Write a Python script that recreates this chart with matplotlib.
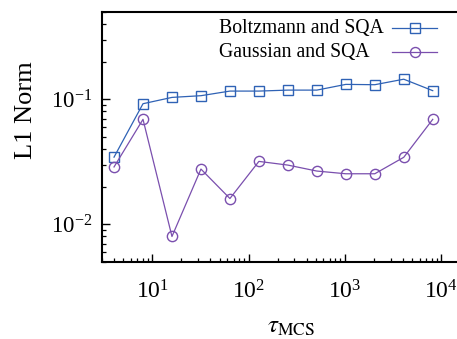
import matplotlib
matplotlib.use("Agg")
import matplotlib.pyplot as plt
from matplotlib.lines import Line2D

plt.rcParams['font.family'] = ['Liberation Serif', 'DejaVu Serif']
plt.rcParams['mathtext.fontset'] = 'stix'

tau_mcs = [4, 8, 16, 32, 64, 128, 256, 512, 1024, 2048, 4096, 8192]
boltzmann_sqa = [0.0345, 0.0923, 0.1037, 0.107, 0.1165, 0.1165, 0.1186, 0.1186,
                 0.1318, 0.131, 0.145, 0.1174]
gaussian_sqa = [0.0288, 0.0692, 0.0080, 0.0277, 0.0161, 0.0319, 0.0298, 0.0267,
                0.0254, 0.0254, 0.0344, 0.0692]
series_labels = ["Boltzmann and SQA", "Gaussian and SQA"]

blue = "#2f62b5"
purple = "#7a4fae"

W, H = 457, 339
fig = plt.figure(figsize=(W / 100, H / 100), dpi=100)
ax = fig.add_axes([102 / W, (H - 262) / H, (481 - 102) / W, (262 - 12) / H])

ax.plot(tau_mcs, boltzmann_sqa, color=blue, lw=0.9, marker='s', ms=7.2,
        mfc='none', mec=blue, mew=1.0)
ax.plot(tau_mcs, gaussian_sqa, color=purple, lw=0.9, marker='o', ms=7.4,
        mfc='none', mec=purple, mew=1.0)

ax.set_xscale('log')
ax.set_yscale('log')
ax.set_xlim(3, 2.6e4)
ax.set_ylim(0.005, 0.5)

for s in ax.spines.values():
    s.set_linewidth(1.5)

ax.tick_params(which='both', direction='in', top=False, right=False, labelsize=17)
ax.tick_params(axis='y', labelsize=16.5)
ax.tick_params(which='major', length=6, width=1.0)
ax.tick_params(which='minor', length=3, width=0.9)
ax.tick_params(axis='x', which='major', pad=13)
ax.tick_params(axis='y', which='major', pad=7)

ax.set_xlabel(r'$\tau_{\mathrm{MCS}}$', fontsize=18, labelpad=9)
ax.set_ylabel('L1 Norm', fontsize=19)
ax.yaxis.set_label_coords(-0.172, 0.608)

# legend: left-aligned labels with the line samples to their right
handles = [(blue, 's'), (purple, 'o')]
rows_y = [28, 52]
for (c, m), lab, yp in zip(handles, series_labels, rows_y):
    yf = 1 - yp / H
    fig.text(219 / W, yf, lab, fontsize=14.2, ha='left', va='center')
    fig.add_artist(Line2D([392 / W, 437 / W], [yf, yf], color=c, lw=0.9,
                          transform=fig.transFigure))
    fig.add_artist(Line2D([414.5 / W], [yf], color=c, marker=m, ms=7.2,
                          mfc='none', mec=c, mew=1.0, transform=fig.transFigure))

fig.savefig('out.png', dpi=100)
